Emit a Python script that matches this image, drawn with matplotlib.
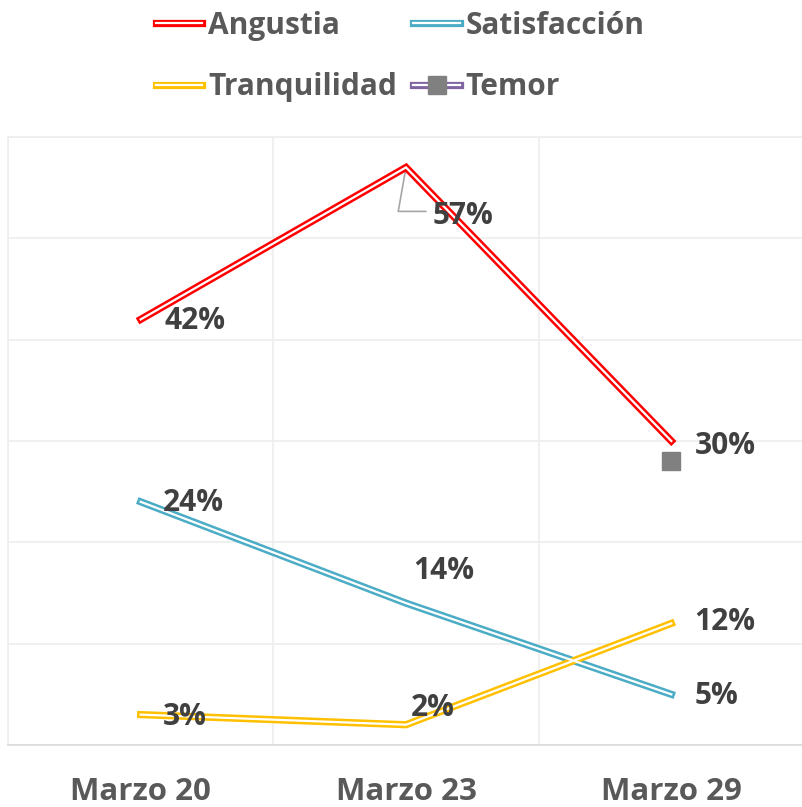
import matplotlib
matplotlib.use("Agg")
import matplotlib.pyplot as plt
from matplotlib.lines import Line2D

plt.rcParams['font.family'] = ['Open Sans', 'DejaVu Sans']

categories = ["Marzo 20", "Marzo 23", "Marzo 29"]
angustia = [42, 57, 30]
satisfaccion = [24, 14, 5]
tranquilidad = [3, 2, 12]
temor = [None, None, 28]

series = [
    ("Angustia", angustia, "#FF0000"),
    ("Satisfacción", satisfaccion, "#4BACC6"),
    ("Tranquilidad", tranquilidad, "#FFC000"),
]

fig = plt.figure(figsize=(8.02, 8.07), dpi=100)
ax = fig.add_axes([8/802, 62/807, 796/802, 608/807])
x = list(range(len(categories)))

OUT_LW = 5.2
IN_LW = 1.6

for name, vals, col in series:
    ax.plot(x, vals, color=col, lw=OUT_LW, solid_joinstyle='miter', zorder=3)
    ax.plot(x, vals, color='white', lw=IN_LW, solid_joinstyle='miter', zorder=4)

tx = [i for i, v in enumerate(temor) if v is not None]
ty = [v for v in temor if v is not None]
ax.plot(tx, ty, linestyle='none', marker='s', ms=13, color='#808080', zorder=5)

px = 72/100
label_offsets = {
    "Angustia": [(24, -2), (27, -49), (23, -5)],
    "Satisfacción": [(22, -1), (7, 32), (23, -2)],
    "Tranquilidad": [(22, -2), (5, 17), (23, 1)],
}
for name, vals, col in series:
    for i, v in enumerate(vals):
        dx, dy = label_offsets[name][i]
        ax.annotate(f"{v}%", xy=(i, v), xytext=(dx*px, dy*px), textcoords='offset points',
                    ha='left', va='center', fontsize=21.5, fontweight='bold', color='#404040', zorder=6)

ax.annotate("", xy=(1, angustia[1]), xytext=(20*px, -44*px), textcoords='offset points',
            arrowprops=dict(arrowstyle='-', color='#A6A6A6', lw=1.2,
                            connectionstyle='angle,angleA=0,angleB=80,rad=0',
                            shrinkA=0, shrinkB=0), zorder=2)

ax.set_xlim(-0.5, 2.5)
ax.set_ylim(0, 60)
ax.set_yticks(range(0, 61, 10))
ax.set_yticklabels([])
ax.set_xticks(x)
ax.set_xticklabels(categories, fontsize=22.5, fontweight='bold', color='#595959')
ax.tick_params(axis='x', length=0, pad=23)
ax.tick_params(axis='y', length=0)
ax.set_xticks([-0.5, 0.5, 1.5, 2.5], minor=True)
ax.tick_params(axis='x', which='minor', length=0)
ax.grid(True, axis='y', which='major', color='#EEEEEE', lw=1.2)
ax.grid(True, axis='x', which='minor', color='#EEEEEE', lw=1.2)
ax.grid(False, axis='x', which='major')
for s in ['top', 'right', 'left']:
    ax.spines[s].set_color('#EEEEEE')
    ax.spines[s].set_linewidth(1.2)
ax.spines['bottom'].set_color('#D9D9D9')
ax.spines['bottom'].set_linewidth(1.2)
ax.set_axisbelow(True)

handles = []
labels = []
for name, vals, col in series:
    h = (Line2D([], [], color=col, lw=OUT_LW), Line2D([], [], color='white', lw=IN_LW))
    handles.append(h)
    labels.append(name)
ht = (Line2D([], [], color='#8064A2', lw=OUT_LW), Line2D([], [], color='white', lw=IN_LW),
      Line2D([], [], linestyle='none', marker='s', ms=13, color='#808080'))
handles.append(ht)
labels.append("Temor")

order = [0, 2, 1, 3]
leg = fig.legend([handles[i] for i in order], [labels[i] for i in order], ncol=2,
                 loc='upper left', bbox_to_anchor=(135/802, 1 + 10/807), frameon=False,
                 prop=dict(size=21.5, weight='bold'), handlelength=1.55, handletextpad=0.2,
                 columnspacing=0.55, labelspacing=1.05, borderpad=0.2)
for t in leg.get_texts():
    t.set_color('#595959')

fig.savefig("out.png", dpi=100)
